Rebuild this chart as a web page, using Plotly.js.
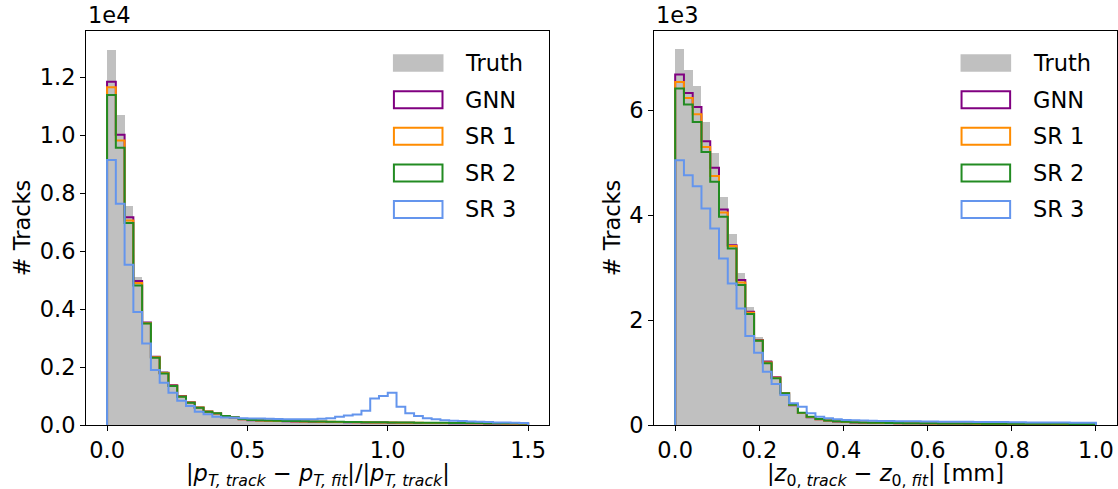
<!DOCTYPE html>
<html>
<head>
<meta charset="utf-8">
<script src="https://cdn.plot.ly/plotly-3.0.1.min.js"></script>
<style>
  html, body { margin: 0; padding: 0; background: #ffffff; }
  #chart { width: 1118px; height: 489px; }
</style>
</head>
<body>
<div id="chart"></div>
<script>
// ---------------- data ----------------
const seriesNames = ["Truth", "GNN", "SR 1", "SR 2", "SR 3"];

// left panel: |pT,track - pT,fit| / |pT,track|, 48 bins on [0, 1.5]
const binsLeft = { lo: 0, hi: 1.5, n: 48 };
const truthLeft = [12950, 10700, 7545, 5110, 3560, 2380, 1870, 1420, 1030, 810, 620, 470, 410, 315, 268, 208, 178, 167, 157, 149, 142, 136, 130, 125, 120, 116, 112, 108, 104, 101, 98, 95, 92, 89, 86, 83, 81, 78, 76, 74, 72, 70, 68, 66, 64, 62, 60, 58];
const gnnLeft   = [11850, 10015, 7175, 4970, 3537, 2355, 1805, 1370, 1000, 785, 605, 465, 400, 306, 258, 198, 166, 155, 145, 137, 130, 124, 118, 113, 108, 104, 100, 96, 92, 89, 86, 83, 80, 78, 75, 73, 70, 68, 66, 64, 62, 60, 58, 56, 55, 53, 51, 50];
const sr1Left   = [11655, 9820, 7060, 4900, 3515, 2335, 1792, 1356, 988, 776, 600, 462, 401, 308, 260, 200, 169, 159, 149, 141, 134, 128, 122, 117, 112, 108, 104, 100, 96, 93, 90, 87, 84, 81, 78, 76, 73, 71, 69, 67, 65, 63, 61, 59, 57, 55, 53, 52];
const sr2Left   = [11390, 9570, 6970, 4815, 3500, 2320, 1780, 1343, 976, 769, 597, 459, 402, 310, 264, 205, 175, 165, 155, 147, 140, 134, 128, 123, 118, 114, 110, 106, 102, 99, 96, 93, 90, 87, 84, 81, 79, 76, 74, 72, 70, 68, 66, 64, 62, 60, 58, 56];
const sr3Left   = [9150, 7635, 5535, 3904, 2814, 1895, 1458, 1114, 838, 655, 459, 367, 287, 255, 250, 235, 228, 224, 218, 210, 200, 196, 195, 200, 212, 230, 287, 330, 365, 494, 919, 1000, 1114, 631, 402, 310, 235, 195, 165, 150, 140, 120, 112, 105, 90, 84, 78, 72];

// right panel: |z0,track - z0,fit| [mm], 48 bins on [0, 1]
const binsRight = { lo: 0, hi: 1.0, n: 48 };
const truthRight = [7176, 6763, 6471, 5778, 5176, 4349, 3639, 2901, 2242, 1682, 1238, 920, 634, 395, 250, 168, 122, 96, 78, 66, 58, 52, 48, 45, 42, 40, 38, 37, 36, 35, 34, 33, 32, 31, 31, 30, 29, 29, 28, 27, 27, 26, 26, 25, 25, 24, 24, 23];
const gnnRight   = [6681, 6330, 6064, 5410, 4902, 4109, 3429, 2762, 2158, 1619, 1206, 908, 604, 378, 228, 150, 108, 84, 68, 57, 50, 45, 41, 38, 36, 34, 32, 31, 30, 29, 28, 27, 27, 26, 25, 25, 24, 24, 23, 23, 22, 22, 21, 21, 20, 20, 19, 19];
const sr1Right   = [6540, 6235, 5925, 5302, 4749, 4052, 3410, 2718, 2139, 1610, 1190, 899, 604, 380, 230, 153, 110, 86, 70, 59, 52, 46, 42, 39, 37, 35, 33, 32, 31, 30, 29, 28, 27, 27, 26, 25, 25, 24, 24, 23, 23, 22, 22, 21, 21, 20, 20, 19];
const sr2Right   = [6414, 6109, 5778, 5206, 4635, 3968, 3366, 2667, 2115, 1606, 1175, 890, 604, 385, 235, 158, 112, 88, 72, 61, 54, 48, 44, 41, 38, 36, 35, 33, 32, 31, 30, 29, 28, 28, 27, 26, 26, 25, 25, 24, 24, 23, 23, 22, 22, 21, 21, 20];
const sr3Right   = [5048, 4763, 4553, 4128, 3747, 3176, 2699, 2223, 1695, 1377, 1016, 781, 572, 413, 349, 222, 159, 127, 108, 95, 90, 85, 80, 78, 75, 72, 72, 70, 68, 66, 64, 63, 62, 60, 58, 58, 56, 55, 53, 52, 50, 50, 48, 47, 46, 45, 44, 43];

// tick labels
const xTicksLeft  = [0, 0.5, 1.0, 1.5];
const xTextLeft   = ["0.0", "0.5", "1.0", "1.5"];
const yTicksLeft  = [0, 2000, 4000, 6000, 8000, 10000, 12000];
const yTextLeft   = ["0.0", "0.2", "0.4", "0.6", "0.8", "1.0", "1.2"];
const xTicksRight = [0, 0.2, 0.4, 0.6, 0.8, 1.0];
const xTextRight  = ["0.0", "0.2", "0.4", "0.6", "0.8", "1.0"];
const yTicksRight = [0, 2000, 4000, 6000];
const yTextRight  = ["0", "2", "4", "6"];

// axis titles
const xTitleLeft = "|<i>p</i><sub><i>T, track</i></sub> − <i>p</i><sub><i>T, fit</i></sub>|/|<i>p</i><sub><i>T, track</i></sub>|";
const xTitleRight = "|<i>z</i><sub>0, <i>track</i></sub> − <i>z</i><sub>0, <i>fit</i></sub>| [mm]";
const yTitle = "# Tracks";

// ---------------- styling ----------------
const W = 1118, H = 489;
const FONT = "DejaVu Sans, Liberation Sans, sans-serif";
const FS = 22.5;
const colors = { truth: "#c0c0c0", gnn: "#800080", sr1: "#ff8c00", sr2: "#228b22", sr3: "#6495ed" };
const lineColors = [colors.gnn, colors.sr1, colors.sr2, colors.sr3];

function edges(b) {
  const w = (b.hi - b.lo) / b.n;
  return Array.from({ length: b.n + 1 }, (_, i) => b.lo + i * w);
}
function centers(b) {
  const w = (b.hi - b.lo) / b.n;
  return Array.from({ length: b.n }, (_, i) => b.lo + (i + 0.5) * w);
}
// step outline like matplotlib histtype="step"
function stepTrace(b, counts, color, name, xa, ya) {
  const e = edges(b);
  const xs = [e[0]].concat(e);
  const ys = [0].concat(counts).concat([0]);
  return { type: "scatter", mode: "lines", x: xs, y: ys, name: name,
           line: { shape: "hv", color: color, width: 2 },
           xaxis: xa, yaxis: ya, hoverinfo: "skip", showlegend: false };
}
function barTrace(b, counts, xa, ya) {
  return { type: "bar", x: centers(b), y: counts, width: (b.hi - b.lo) / b.n,
           name: "Truth", marker: { color: colors.truth, line: { width: 0 } },
           xaxis: xa, yaxis: ya, hoverinfo: "skip", showlegend: false };
}

const data = [
  barTrace(binsLeft, truthLeft, "x", "y"),
  stepTrace(binsLeft, gnnLeft, colors.gnn, "GNN", "x", "y"),
  stepTrace(binsLeft, sr1Left, colors.sr1, "SR 1", "x", "y"),
  stepTrace(binsLeft, sr2Left, colors.sr2, "SR 2", "x", "y"),
  stepTrace(binsLeft, sr3Left, colors.sr3, "SR 3", "x", "y"),
  barTrace(binsRight, truthRight, "x2", "y2"),
  stepTrace(binsRight, gnnRight, colors.gnn, "GNN", "x2", "y2"),
  stepTrace(binsRight, sr1Right, colors.sr1, "SR 1", "x2", "y2"),
  stepTrace(binsRight, sr2Right, colors.sr2, "SR 2", "x2", "y2"),
  stepTrace(binsRight, sr3Right, colors.sr3, "SR 3", "x2", "y2")
];

// plot-area geometry (pixels)
const M = { l: 85.7, r: 1, t: 30.7, b: 64 };
const IW = W - M.l - M.r, IH = H - M.t - M.b;
const L = { x0: 85.7, x1: 549, y0: 30.7, y1: 425 };
const R = { x0: 654, x1: 1117, y0: 30.7, y1: 425 };
const px = v => (v - M.l) / IW;
const py = v => 1 - (v - M.t) / IH;
const clamp01 = v => Math.min(1, Math.max(0, v));

function axisX(dom, range, tv, tt, anchor) {
  return {
    domain: [clamp01(px(dom.x0)), clamp01(px(dom.x1))], range: range, anchor: anchor,
    tickmode: "array", tickvals: tv, ticktext: tt,
    ticks: "outside", ticklen: 5, tickwidth: 1, tickcolor: "#000",
    showline: true, mirror: true, linecolor: "#000", linewidth: 1,
    showgrid: false, zeroline: false,
    tickfont: { family: FONT, size: FS, color: "#000" },
    title: { text: "" }
  };
}
function axisY(dom, range, tv, tt, anchor) {
  return {
    domain: [clamp01(py(dom.y1)), clamp01(py(dom.y0))], range: range, anchor: anchor,
    tickmode: "array", tickvals: tv, ticktext: tt,
    ticks: "outside", ticklen: 5, tickwidth: 1, tickcolor: "#000",
    showline: true, mirror: true, linecolor: "#000", linewidth: 1,
    showgrid: false, zeroline: false,
    tickfont: { family: FONT, size: FS, color: "#000" },
    title: { text: yTitle, font: { family: FONT, size: FS, color: "#000" }, standoff: 2 }
  };
}

// manual matplotlib-style legends
const shapes = [];
const annotations = [];
const rowY = [62.8, 99.5, 136, 172.7, 209.3];
function addLegend(patchX0) {
  const patchW = 50.6, textX = patchX0 + 70.6;
  seriesNames.forEach((name, i) => {
    const cy = rowY[i];
    if (i === 0) {
      shapes.push({ type: "rect", xref: "paper", yref: "paper",
        x0: px(patchX0), x1: px(patchX0 + patchW), y0: py(cy + 8.8), y1: py(cy - 8.8),
        fillcolor: colors.truth, line: { width: 0 } });
    } else {
      shapes.push({ type: "rect", xref: "paper", yref: "paper",
        x0: px(patchX0 + 1), x1: px(patchX0 + patchW - 1), y0: py(cy + 8.5), y1: py(cy - 8.5),
        fillcolor: "rgba(0,0,0,0)", line: { width: 2, color: lineColors[i - 1] } });
    }
    annotations.push({ xref: "paper", yref: "paper", x: px(textX), y: py(cy),
      xanchor: "left", yanchor: "middle", showarrow: false, text: name,
      font: { family: FONT, size: FS, color: "#000" } });
  });
}
addLegend(392.7);
addLegend(960.5);

// x-axis titles (placed below the tick labels)
annotations.push({ xref: "paper", yref: "paper", x: px((L.x0 + L.x1) / 2), y: py(475.5), xanchor: "center", yanchor: "middle",
  showarrow: false, borderpad: 0, text: xTitleLeft, font: { family: FONT, size: FS, color: "#000" } });
annotations.push({ xref: "paper", yref: "paper", x: px((R.x0 + R.x1) / 2), y: py(475.5), xanchor: "center", yanchor: "middle",
  showarrow: false, borderpad: 0, text: xTitleRight, font: { family: FONT, size: FS, color: "#000" } });

// scientific offset texts
annotations.push({ xref: "paper", yref: "paper", x: px(L.x0), y: py(L.y0 - 1), xanchor: "left", yanchor: "bottom",
  showarrow: false, text: "1e4", font: { family: FONT, size: FS, color: "#000" } });
annotations.push({ xref: "paper", yref: "paper", x: px(R.x0), y: py(R.y0 - 1), xanchor: "left", yanchor: "bottom",
  showarrow: false, text: "1e3", font: { family: FONT, size: FS, color: "#000" } });

const layout = {
  width: W, height: H,
  margin: { l: M.l, r: M.r, t: M.t, b: M.b, pad: 0, autoexpand: false },
  paper_bgcolor: "#ffffff", plot_bgcolor: "#ffffff",
  showlegend: false, bargap: 0, barmode: "overlay",
  font: { family: FONT, size: FS, color: "#000" },
  xaxis: axisX(L, [-0.075, 1.575], xTicksLeft, xTextLeft, "y"),
  yaxis: axisY(L, [0, 13600], yTicksLeft, yTextLeft, "x"),
  xaxis2: axisX(R, [-0.05, 1.05], xTicksRight, xTextRight, "y2"),
  yaxis2: axisY(R, [0, 7511], yTicksRight, yTextRight, "x2"),
  shapes: shapes,
  annotations: annotations
};

Plotly.newPlot("chart", data, layout, { displayModeBar: false, staticPlot: true });
</script>
</body>
</html>
